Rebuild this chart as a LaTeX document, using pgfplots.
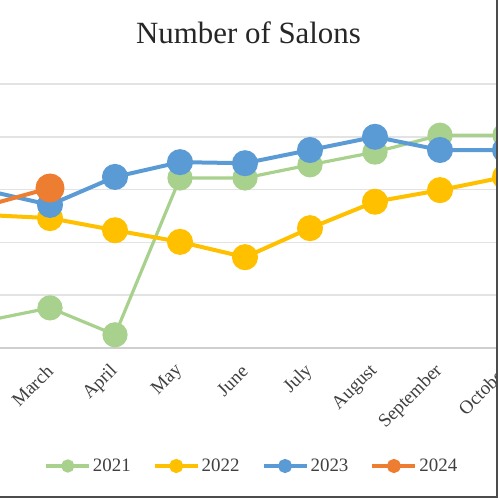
\documentclass[border=0pt]{standalone}
\usepackage{fontspec}
\setmainfont{Liberation Serif}
\usepackage{pgfplots}
\pgfplotsset{compat=1.18}

\definecolor{c21}{HTML}{A9D18E}
\definecolor{c22}{HTML}{FFC000}
\definecolor{c23}{HTML}{5B9BD5}
\definecolor{c24}{HTML}{ED7D31}
\definecolor{gridc}{HTML}{E3E3E3}
\definecolor{axc}{HTML}{CFCFCF}
\definecolor{txt}{HTML}{404040}

\begin{document}
\begin{tikzpicture}
\useasboundingbox (0,0) rectangle (500bp,500bp);

% title
\node[anchor=base, text=black!85, font=\fontsize{31}{36}\selectfont]
  at (248.5bp,456bp) {Number of Salons};

\begin{scope}
\clip (0,0) rectangle (497bp,500bp);
\begin{axis}[
    at={(0bp,152bp)}, anchor=south west,
    scale only axis,
    width=518bp, height=264bp,
    xmin=2.2308, xmax=10.2,
    ymin=0, ymax=50,
    axis x line*=bottom,
    axis y line*=left,
    y axis line style={draw=none},
    x axis line style={draw=axc, line width=2bp},
    ytick={10,20,30,40,50},
    yticklabels={},
    ymajorgrids,
    grid style={draw=gridc, line width=1.6bp},
    major tick length=0pt,
    xtick={3,4,5,6,7,8,9,10},
    xticklabels={March,April,May,June,July,August,September,October},
    xticklabel style={rotate=45, anchor=east, text=txt, xshift=3bp,
        font=\fontsize{19}{22}\selectfont},
    xticklabel shift=20bp,
    clip marker paths=true,
    legend columns=4,
    legend style={at={(267bp,-118bp)}, anchor=center, draw=none, fill=none,
        font=\fontsize{19}{22}\selectfont, text=txt,
        /tikz/every even column/.append style={column sep=20bp}},
    legend image code/.code={
        \draw[mark=none] (0bp,0bp) -- (43bp,0bp);
        \fill (21.5bp,0bp) circle (5bp);
    },
]

\addplot[color=c21, line width=3.2bp, mark=*, mark size=11bp] coordinates {
(2,5.1) (3,7.6) (4,2.5) (5,32.2) (6,32.2) (7,34.7) (8,37.1) (9,40.3) (10,40.3)
};
\addlegendentry{2021}

\addplot[color=c22, line width=4bp, mark=*, mark size=11bp] coordinates {
(2,25.2) (3,24.6) (4,22.3) (5,20.1) (6,17.2) (7,22.7) (8,27.7) (9,29.9) (10,32.4)
};
\addlegendentry{2022}

\addplot[color=c23, line width=4bp, mark=*, mark size=11bp] coordinates {
(2,29.9) (3,27.1) (4,32.4) (5,35.2) (6,35.0) (7,37.5) (8,40.0) (9,37.5) (10,37.5)
};
\addlegendentry{2023}

\addplot[color=c24, line width=4bp, mark=*, mark size=12.5bp] coordinates {
(2,26.9) (3,30.3)
};
\addlegendentry{2024}

\end{axis}
\end{scope}

% chart border (right and bottom edges of the crop)
\draw[draw=black!70, line width=2bp] (497bp,500bp) -- (497bp,3bp) -- (0bp,3bp);
\end{tikzpicture}
\end{document}
